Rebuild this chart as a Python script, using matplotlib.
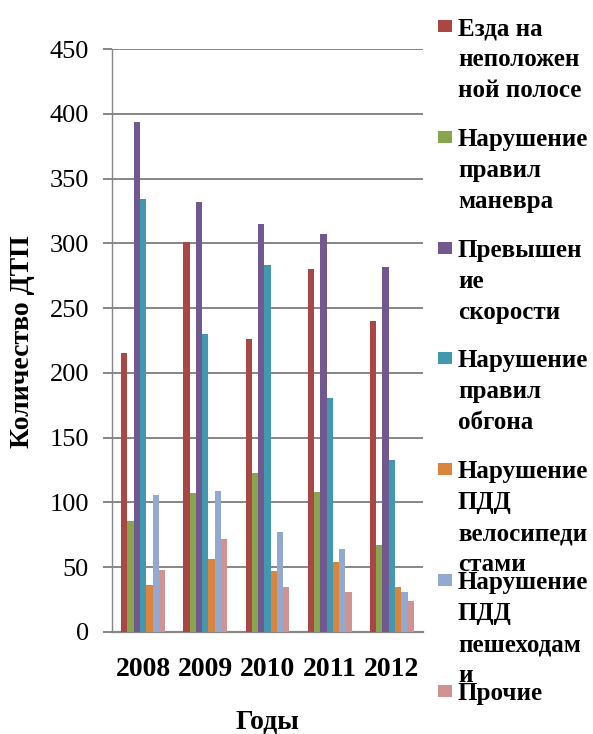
import matplotlib
matplotlib.use("Agg")
import matplotlib.pyplot as plt
from matplotlib.patches import Rectangle
import numpy as np

# Количество ДТП по причинам, 2008-2012
years = ["2008", "2009", "2010", "2011", "2012"]
causes = [
    "Езда на неположенной полосе",
    "Нарушение правил маневра",
    "Превышение скорости",
    "Нарушение правил обгона",
    "Нарушение ПДД велосипедистами",
    "Нарушение ПДД пешеходами",
    "Прочие",
]
wrong_lane = [215, 301, 226, 280, 240]
maneuver = [86, 107, 123, 108, 67]
speeding = [394, 332, 315, 307, 282]
overtaking = [334, 230, 283, 181, 133]
cyclists = [36, 56, 47, 54, 35]
pedestrians = [106, 109, 77, 64, 31]
other = [48, 72, 35, 31, 24]
series = [wrong_lane, maneuver, speeding, overtaking, cyclists, pedestrians, other]
y_ticks = list(range(0, 451, 50))

# подписи легенды с переносами, как в исходной таблице
legend_lines = [
    ["Езда на", "неположен", "ной полосе"],
    ["Нарушение", "правил", "маневра"],
    ["Превышен", "ие", "скорости"],
    ["Нарушение", "правил", "обгона"],
    ["Нарушение", "ПДД", "велосипеди", "стами"],
    ["Нарушение", "ПДД", "пешеходам", "и"],
    ["Прочие"],
]

colors = ["#AA4643", "#89A54E", "#71588F", "#4198AF", "#DB843D", "#93A9CF", "#D19392"]
grid_col = "#868686"
serif = ["Liberation Serif", "DejaVu Serif"]

W, H = 593, 734
fig = plt.figure(figsize=(W / 100, H / 100), dpi=100)
ax = fig.add_axes([112 / W, 1 - 632 / H, (423 - 112) / W, (632 - 49) / H])

x = np.arange(len(years))
n = len(series)
bw = 0.101
for i, vals in enumerate(series):
    ax.bar(x + (i - (n - 1) / 2) * bw, vals, width=bw, color=colors[i],
           linewidth=0, zorder=3, label=causes[i])

ax.set_xlim(-0.5, len(years) - 0.5)
ax.set_ylim(0, 450)
ax.set_yticks(y_ticks)
ax.set_yticklabels([str(t) for t in y_ticks], family=serif, fontsize=19)
ax.set_xticks(x)
ax.set_xticklabels(years, family=serif, fontsize=20, fontweight="bold")

ax.grid(axis="y", color=grid_col, linewidth=1.4, zorder=0)
ax.set_axisbelow(True)
for s in ["top", "right"]:
    ax.spines[s].set_visible(False)
ax.spines["left"].set_color(grid_col)
ax.spines["left"].set_linewidth(1.0)
ax.spines["bottom"].set_color(grid_col)
ax.spines["bottom"].set_linewidth(1.6)
ax.tick_params(axis="y", length=6.5, width=1.4, color=grid_col, pad=10)
ax.tick_params(axis="x", length=0, pad=18)

fig.text(267.5 / W, 1 - 723 / H, "Годы", family=serif, fontsize=20,
         fontweight="bold", ha="center", va="center")
fig.text(23 / W, 1 - 342 / H, "Количество ДТП", family=serif, fontsize=20,
         fontweight="bold", rotation=90, ha="center", va="center")

# легенда справа, вручную
for k, lines in enumerate(legend_lines):
    yc = 26 + 110.8 * k
    fig.add_artist(Rectangle((438 / W, 1 - (yc + 6) / H), 14 / W, 12 / H,
                             transform=fig.transFigure, color=colors[k], lw=0))
    for j, line in enumerate(lines):
        fig.text(458 / W, 1 - (yc + 9 + 31 * j) / H, line, family=serif,
                 fontsize=18, fontweight="bold", ha="left", va="baseline")

fig.savefig("out.png", dpi=100, facecolor="white")
